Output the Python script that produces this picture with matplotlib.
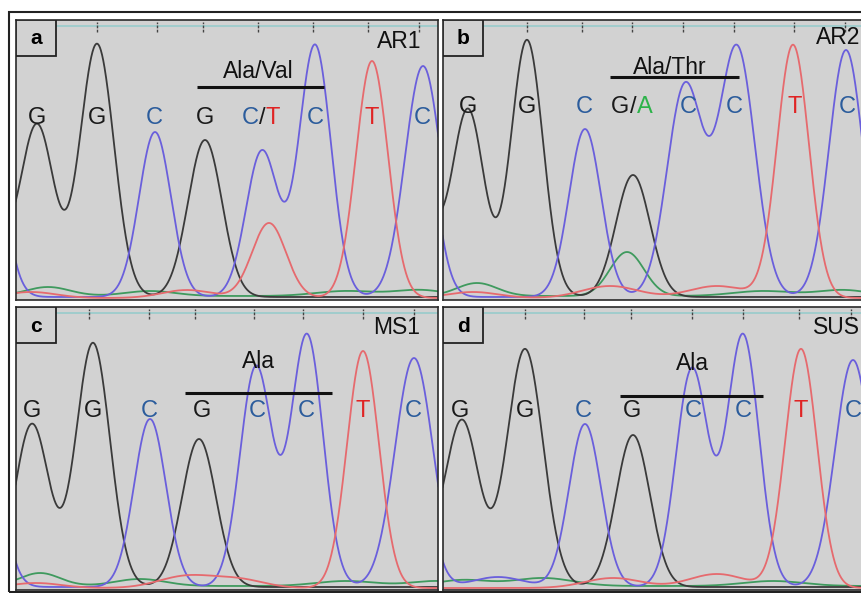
import numpy as np
import matplotlib.pyplot as plt
from matplotlib.patches import Rectangle

plt.rcParams['font.family'] = ['Liberation Sans', 'DejaVu Sans']

# Peaks of the four dye traces: (scan position, height, width) in panel pixels
# Panel a - AR1
a_g = [(-30, 80, 17), (21, 172, 17), (81, 253, 17), (189, 157, 17)]
a_c = [(-30, 200, 16), (139, 165, 16), (246, 146, 16), (299, 252, 16), (407, 231, 18)]
a_t = [(15, 6, 25), (171, 8, 25), (253, 75, 17), (356, 237, 16)]
a_a = [(32, 9, 22), (134, 5, 25), (330, 5, 30), (404, 6, 25)]
# Panel b - AR2
b_g = [(-22, 90, 16), (25, 187, 16), (84, 257, 16), (190, 122, 17)]
b_c = [(-25, 200, 16), (142, 168, 16), (242, 211, 18), (294, 249, 18), (403, 247, 17)]
b_t = [(30, 6, 25), (167, 12, 28), (274, 12, 28), (350, 253, 16)]
b_a = [(34, 13, 20), (184, 44, 17), (320, 5, 30), (400, 6, 25)]
# Panel c - MS1
c_g = [(16, 163, 17), (77, 244, 17), (183, 148, 17)]
c_c = [(-32, 180, 16), (134, 168, 16), (240, 220, 16), (291, 252, 16), (398, 229, 19)]
c_t = [(20, 5, 25), (171, 12, 28), (224, 8, 25), (347, 237, 16)]
c_a = [(24, 13, 20), (124, 7, 25), (330, 5, 30), (420, 5, 25)]
# Panel d - SUS
d_g = [(-30, 60, 17), (19, 166, 17), (82, 238, 18), (190, 152, 17)]
d_c = [(-32, 180, 16), (55, 10, 25), (142, 163, 16), (249, 218, 16), (300, 252, 16), (410, 227, 18)]
d_t = [(170, 10, 28), (274, 14, 28), (358, 239, 16)]
d_a = [(20, 6, 25), (100, 8, 30), (330, 5, 30)]

# Base calls and their positions
a_bases = ['G', 'G', 'C', 'G', 'C/T', 'C', 'T', 'C']
a_base_x = [21, 81, 138, 189, 246, 299, 356, 406]
b_bases = ['G', 'G', 'C', 'G/A', 'C', 'C', 'T', 'C']
b_base_x = [25, 84, 141, 190, 245, 291, 352, 404]
c_bases = ['G', 'G', 'C', 'G', 'C', 'C', 'T', 'C']
c_base_x = [16, 77, 133, 186, 241, 290, 347, 397]
d_bases = ['G', 'G', 'C', 'G', 'C', 'C', 'T', 'C']
d_base_x = [17, 82, 140, 189, 250, 300, 358, 410]

# Scan ticks along the top
a_ticks = [16, 81, 141, 187, 242, 297, 352, 403]
b_ticks = [24, 84, 139, 189, 240, 291, 351, 402]
c_ticks = [15, 73, 133, 179, 238, 287, 347, 398]
d_ticks = [16, 82, 141, 188, 249, 300, 356, 408]

trace_col = {'G': '#3a3a3a', 'C': '#6a5fdc', 'T': '#e66a6e', 'A': '#3f9a5e'}
base_col = {'G': '#1a1a1a', 'C': '#2b5c9c', 'T': '#e02424', 'A': '#2db34a', '/': '#1a1a1a'}

W, H = 861, 593
fig = plt.figure(figsize=(W/100, H/100), dpi=100)

# outer frame
fig.add_artist(Rectangle((9/W, 1/H), (880-9)/W, 580/H, transform=fig.transFigure,
                         fill=False, ec='#222222', lw=1.5))

x = np.linspace(-80, 520, 1500)
FS = 16.5

def trace(peaks, base):
	y = np.full_like(x, base)
	for p, h, s in peaks:
		y = y + h*np.exp(-(x-p)**2/(2*s**2))
	return y

def base_label(ax, s, bx, by):
	fs = 17
	if '/' in s:
		l, r = s.split('/')
		ax.text(bx, by, '/', color=base_col['/'], fontsize=fs, ha='center', va='center')
		ax.text(bx-3.5, by, l, color=base_col[l], fontsize=fs, ha='right', va='center')
		ax.text(bx+3.5, by, r, color=base_col[r], fontsize=fs, ha='left', va='center')
	else:
		ax.text(bx, by, s, color=base_col[s], fontsize=fs, ha='center', va='center')

def panel(left, bottom, h, tag, name, name_x, name_y, tr, ticks, bases, base_x, base_y,
		  codon, codon_xy, bar):
	w = 422
	ax = fig.add_axes([left/W, (H-bottom)/H, w/W, h/H])
	ax.set_facecolor('#d2d2d2')
	ax.set_xlim(0, w)
	ax.set_ylim(0, h)
	ax.set_xticks([])
	ax.set_yticks([])
	for sp in ax.spines.values():
		sp.set_color('#2a2a2a')
		sp.set_linewidth(1.2)
	g, c, t, a = tr
	ax.plot(x, trace(a, 4), color=trace_col['A'], lw=1.3)
	ax.plot(x, trace(g, 3), color=trace_col['G'], lw=1.3)
	ax.plot(x, trace(c, 3), color=trace_col['C'], lw=1.3)
	ax.plot(x, trace(t, 2), color=trace_col['T'], lw=1.3)
	# scan line and ticks
	ax.axhline(h-6, color='#9ccccc', lw=1.3)
	for tx in ticks:
		ax.plot([tx, tx], [h-12, h-2], color='#444444', lw=1.0, ls=(0, (2, 1)))
	for s, bx in zip(bases, base_x):
		base_label(ax, s, bx, base_y)
	ax.text(codon_xy[0], codon_xy[1], codon, fontsize=FS, ha='center', va='center', color='#111111')
	ax.plot([bar[0], bar[1]], [bar[2], bar[2]], color='#111111', lw=2.2, solid_capstyle='butt')
	ax.text(name_x, name_y, name, fontsize=FS, ha='right', va='center', color='#111111')
	ax.add_patch(Rectangle((0, h-36), 40, 36, fc='#d2d2d2', ec='#222222', lw=1.3, zorder=3))
	ax.text(20, h-19, tag, fontsize=15, fontweight='bold', ha='center', va='center', zorder=4)

panel(16, 300, 280, 'a', 'AR1', 405, 258, (a_g, a_c, a_t, a_a), a_ticks,
	  a_bases, a_base_x, 182, 'Ala/Val', (242, 228), (181, 308, 213))
panel(443, 300, 280, 'b', 'AR2', 417, 262, (b_g, b_c, b_t, b_a), b_ticks,
	  b_bases, b_base_x, 193, 'Ala/Thr', (227, 232), (167, 296, 223))
panel(16, 590, 283, 'c', 'MS1', 404, 263, (c_g, c_c, c_t, c_a), c_ticks,
	  c_bases, c_base_x, 179, 'Ala', (242, 228), (169, 316, 197))
panel(443, 590, 283, 'd', 'SUS', 417, 263, (d_g, d_c, d_t, d_a), d_ticks,
	  d_bases, d_base_x, 179, 'Ala', (249, 226), (177, 320, 194))

plt.savefig('out.png', dpi=100)
